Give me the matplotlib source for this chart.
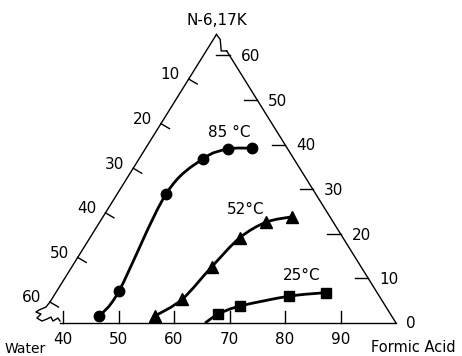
"""Ternary phase diagram: N-6,17K / water / formic acid cloud-point curves."""

import numpy as np
import matplotlib
matplotlib.use("Agg")
import matplotlib.pyplot as plt
from matplotlib.path import Path
from matplotlib.patches import PathPatch

# compositions, wt% (formic acid, N-6,17K); water is the rest
fa_85 = [45.7, 46.5, 44.1, 46.8, 50.2, 54.4]
n_85 = [1.6, 7.2, 28.9, 36.8, 39.0, 39.2]
fa_52 = [55.8, 58.8, 60.5, 62.3, 65.3, 69.3]
n_52 = [1.6, 5.3, 12.6, 19.1, 22.6, 23.8]
fa_25 = [67.0, 70.0, 77.7, 83.9]
n_25 = [2.0, 3.8, 6.0, 6.8]
fa_25_start = 65.6  # where the 25 °C curve meets the baseline

bottom_ticks = [40, 50, 60, 70, 80, 90]   # formic acid
right_ticks = [10, 20, 30, 40, 50, 60]    # N-6,17K
left_ticks = [10, 20, 30, 40, 50, 60]     # water
FA_LEFT = 35.3   # the left edge of the (truncated) triangle is this formic acid line

SX, SY = 5.55, 5.15   # pixels per data unit in the scanned figure
H = np.sqrt(3) / 2


def tern(fa, n):
    fa, n = np.asarray(fa, float), np.asarray(n, float)
    return fa + n / 2, n * H


def px(dx, dy):
    """pixel offset -> data offset (dy positive = down)"""
    return dx / SX, -dy / SY


def smooth(ax, x, y, **kw):
    # Catmull-Rom through the points, drawn as cubic Bezier segments
    p = np.column_stack([x, y])
    ext = np.vstack([p[0], p, p[-1]])
    verts, codes = [p[0]], [Path.MOVETO]
    for i in range(len(p) - 1):
        p0, p1, p2, p3 = ext[i], ext[i + 1], ext[i + 2], ext[i + 3]
        verts += [p1 + (p2 - p0) / 6, p2 - (p3 - p1) / 6, p2]
        codes += [Path.CURVE4] * 3
    ax.add_patch(PathPatch(Path(verts, codes), fill=False, **kw))


fig = plt.figure(figsize=(4.62, 3.56), dpi=100)
ax = fig.add_axes([0, 0, 1, 1])
ax.set_xlim(40 - 63 / SX, 40 + (462 - 63) / SX)
ax.set_ylim(-33 / SY, 323 / SY)
ax.axis("off")

k = "black"
lw = 1.0

# frame: right edge (water = 0), left edge (FA = FA_LEFT), baseline
xr, yr = tern([100, 100 - 61], [0, 61])
ax.plot(xr, yr, color=k, lw=lw)
xl, yl = tern([FA_LEFT, FA_LEFT], [100 - FA_LEFT - 60, 100 - FA_LEFT])
ax.plot(xl, yl, color=k, lw=lw)
# top break
bx = [xr[1], xr[1] + px(-5.5, 0)[0], xr[1] + px(-6.5, 0)[0], xl[1]]
by = [yr[1], yr[1], yr[1] + px(0, -11.5)[1], yl[1]]
ax.plot(bx, by, color=k, lw=lw)
# left break, then the baseline
zz = [(0, 0), (-4, 5), (-11, 8), (-14, 10), (-9, 12), (-13, 16), (-8, 19),
      (-3, 17), (1, 15), (3, 19), (8, 16), (10, 19)]
zx = [xl[0] + px(a, b)[0] for a, b in zz]
zy = [yl[0] + px(a, b)[1] for a, b in zz]
ax.plot(zx, zy, color=k, lw=lw)
ax.plot([zx[-1], 100], [0, 0], color=k, lw=lw)

# ticks and labels
for t in bottom_ticks:
    x0, y0 = tern(t, 0)
    ax.plot([x0, x0], [y0, y0 + 12 / SY], color=k, lw=lw)
    ax.annotate(str(t), (x0, y0), xytext=(0, -17 * 0.72), textcoords="offset points",
                ha="center", va="center", fontsize=11)
for t in right_ticks:
    x0, y0 = tern(100 - t, t)
    ax.plot([x0, x0 - 13 / SX], [y0, y0], color=k, lw=lw)
    ax.annotate(str(t), (x0, y0), xytext=(11 * 0.72, -1), textcoords="offset points",
                ha="left", va="center", fontsize=11)
ax.annotate("0", tern(100, 0), xytext=(10 * 0.72, 0), textcoords="offset points",
            ha="left", va="center", fontsize=11)
for t in left_ticks:
    x0, y0 = tern(FA_LEFT, 100 - FA_LEFT - t)
    ax.plot([x0, x0 + 8.5 / SX], [y0, y0 - 5 / SY], color=k, lw=lw)
    ax.annotate(str(t), (x0, y0), xytext=(-9 * 0.72, 3), textcoords="offset points",
                ha="right", va="center", fontsize=11)

# corner names
ax.annotate("N-6,17K", tern(FA_LEFT, 100 - FA_LEFT), xytext=(0, 14 * 0.72),
            textcoords="offset points", ha="center", va="center", fontsize=11)
ax.annotate("Water", tern(FA_LEFT, 0), xytext=(-12 * 0.72, -26 * 0.72),
            textcoords="offset points", ha="center", va="center", fontsize=10)
ax.annotate("Formic Acid", tern(100, 0), xytext=(17 * 0.72, -24 * 0.72),
            textcoords="offset points", ha="center", va="center", fontsize=10.5)

# curves
x85, y85 = tern(fa_85, n_85)
smooth(ax, x85, y85, color=k, lw=2.0)
ax.plot(x85, y85, "o", color=k, ms=7.5)
x52, y52 = tern(fa_52, n_52)
smooth(ax, x52, y52, color=k, lw=2.0)
ax.plot(x52, y52, "^", color=k, ms=8.5)
x25, y25 = tern(fa_25, n_25)
xs, ys = tern(fa_25_start, 0)
smooth(ax, np.r_[xs, x25], np.r_[ys, y25], color=k, lw=2.0)
ax.plot(x25, y25, "s", color=k, ms=7)

ax.annotate("85 °C", (x85[3], y85[3]), xytext=(26 * 0.72, 26 * 0.72),
            textcoords="offset points", ha="center", va="center", fontsize=11)
ax.annotate("52°C", (x52[-2], y52[-2]), xytext=(-20 * 0.72, 13 * 0.72),
            textcoords="offset points", ha="center", va="center", fontsize=11)
ax.annotate("25°C", (x25[-2], y25[-2]), xytext=(13 * 0.72, 21 * 0.72),
            textcoords="offset points", ha="center", va="center", fontsize=11)

fig.savefig("out.png", dpi=100)
